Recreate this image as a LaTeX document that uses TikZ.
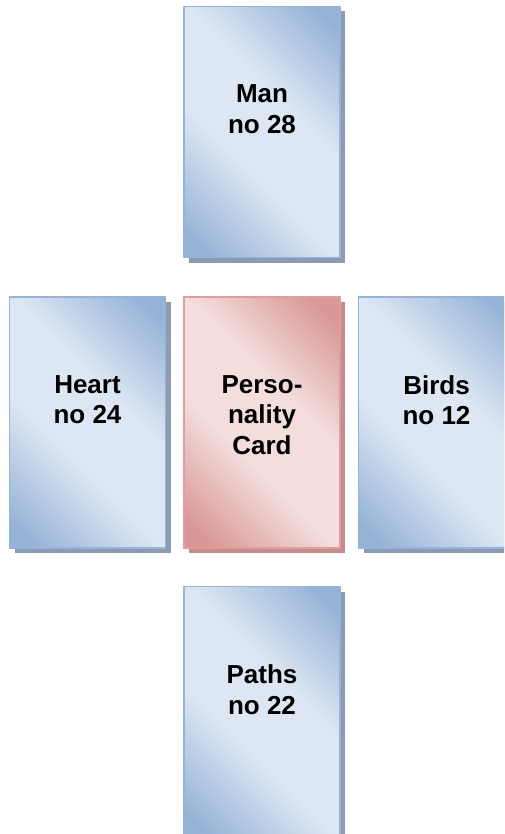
\documentclass[tikz,border=0pt]{standalone}
\usepackage{fontspec}
\setmainfont{Liberation Sans}
\usetikzlibrary{positioning, shadows}
\definecolor{carddark}{RGB}{149, 179, 215}
\definecolor{cardlight}{RGB}{221, 231, 243}
\definecolor{cardline}{RGB}{150, 180, 216}
\definecolor{cardshade}{RGB}{140, 154, 178}
\definecolor{persdark}{RGB}{217, 150, 148}
\definecolor{perslight}{RGB}{243, 222, 221}
\definecolor{persline}{RGB}{222, 158, 156}
\definecolor{persshade}{RGB}{196, 140, 140}
\pgfdeclareverticalshading{blueglow}{100bp}{color(0bp)=(carddark); color(19bp)=(carddark);
  color(41bp)=(cardlight); color(59bp)=(cardlight); color(81bp)=(carddark); color(100bp)=(carddark)}
\pgfdeclareverticalshading{pinkglow}{100bp}{color(0bp)=(persdark); color(19bp)=(persdark);
  color(41bp)=(perslight); color(59bp)=(perslight); color(81bp)=(persdark); color(100bp)=(persdark)}

\begin{document}
\begin{tikzpicture}[x=1pt, y=-1pt,
    card/.style={rectangle, minimum width=156pt, minimum height=251pt, inner sep=0pt,
      line width=1.5pt, shade, shading angle=-45},
    bluecard/.style={card, draw=cardline, shading=blueglow,
      drop shadow={shadow xshift=5pt, shadow yshift=-5pt, fill=cardshade, opacity=1}},
    pinkcard/.style={card, draw=persline, shading=pinkglow,
      drop shadow={shadow xshift=5pt, shadow yshift=-5pt, fill=persshade, opacity=1}},
    lbl/.style={font=\fontsize{26}{30.5}\selectfont\bfseries, align=center, inner sep=0pt}
  ]
    \useasboundingbox (0,0) rectangle (504,834);
    \clip (0,0) rectangle (504,834);
    % the cross of cards
    \node[pinkcard] (pers) at (262,422.5) {};
    \node[bluecard, above=38pt of pers] (man) {};
    \node[bluecard, below=37pt of pers] (paths) {};
    \node[bluecard, left=17pt of pers] (heart) {};
    \node[bluecard, right=17pt of pers] (birds) {};
    % names on the cards
    \node[lbl, below=79pt of man.north] (mantext) {Man\\no 28};
    \node[lbl, below=79pt of heart.north] (hearttext) {Heart\\no 24};
    \node[lbl, below=79pt of pers.north] (perstext) {Perso-\\nality\\ Card};
    \node[lbl, below=79pt of birds.north] (birdstext) {Birds\\no 12};
    \node[lbl, below=79pt of paths.north] (pathstext) {Paths\\no 22};
  \end{tikzpicture}
\end{document}
